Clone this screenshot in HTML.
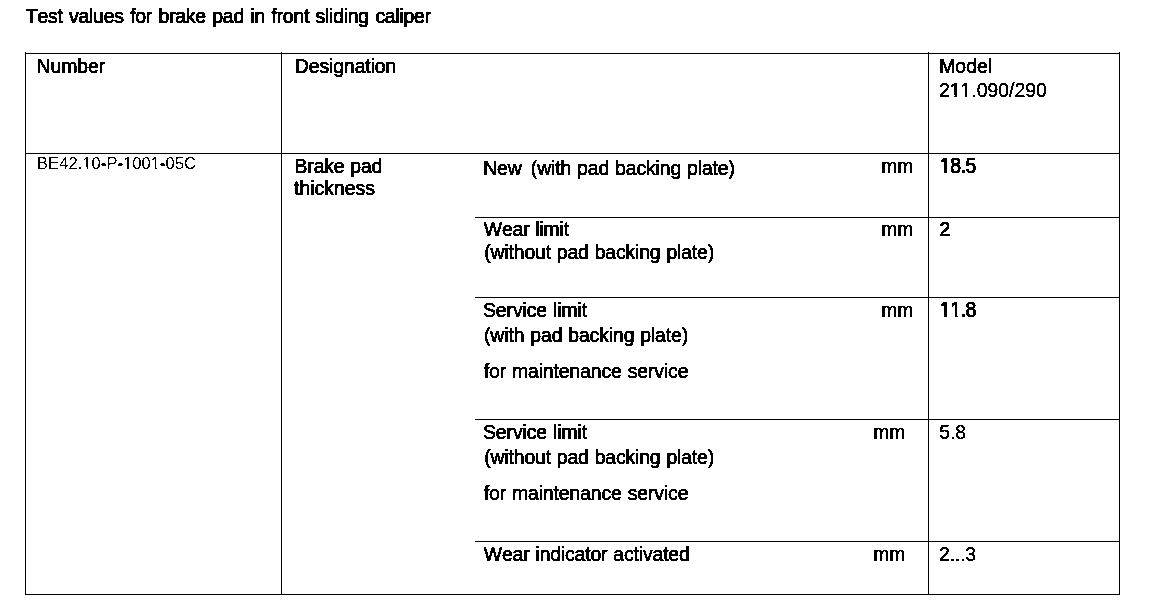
<!DOCTYPE html>
<html>
<head>
<meta charset="utf-8">
<title>Test values for brake pad in front sliding caliper</title>
<style>
html,body{margin:0;padding:0;background:#fff;}
body{width:1152px;height:614px;position:relative;overflow:hidden;font-family:"Liberation Sans",sans-serif;color:#000;}
.l{position:absolute;background:#000;}
#txt{position:absolute;left:0;top:0;}
.t{font-family:"Liberation Sans",sans-serif;font-size:19.4px;font-kerning:none;font-variant-ligatures:none;word-spacing:0.7px;
   fill:#000;stroke:#000;stroke-linejoin:round;stroke-linecap:round;white-space:pre;}
.s{font-size:16.6px;}
.b{stroke-width:0.9px;}
.r{stroke-width:0.65px;}
.lt{stroke-width:0.32px;}
.s{stroke-width:0.0px;}
.hy{stroke-width:0.7px;}
</style>
</head>
<body>
<!-- table rules -->
<div class="l" style="left:25px;top:52px;width:1px;height:543px"></div>
<div class="l" style="left:281px;top:52px;width:1px;height:543px"></div>
<div class="l" style="left:928px;top:52px;width:1px;height:543px"></div>
<div class="l" style="left:1119px;top:52px;width:1px;height:543px"></div>
<div class="l" style="left:25px;top:53px;width:1095px;height:1px"></div>
<div class="l" style="left:25px;top:153px;width:1095px;height:1px"></div>
<div class="l" style="left:475px;top:217px;width:645px;height:1px"></div>
<div class="l" style="left:475px;top:297px;width:645px;height:1px"></div>
<div class="l" style="left:475px;top:419px;width:645px;height:1px"></div>
<div class="l" style="left:475px;top:541px;width:645px;height:1px"></div>
<div class="l" style="left:25px;top:594px;width:1095px;height:1px"></div>
<!-- text -->
<svg id="txt" width="1152" height="614" viewBox="0 0 1152 614">
<defs>
<filter id="th" x="0" y="0" width="1152" height="614" filterUnits="userSpaceOnUse" color-interpolation-filters="sRGB"><feComponentTransfer><feFuncA type="discrete" tableValues="0 1"/></feComponentTransfer></filter>
</defs>
<g filter="url(#th)">
<defs>
<clipPath id="c_modelno" clipPathUnits="userSpaceOnUse"><path clip-rule="evenodd" d="M-20 -40H400V20H-20Z M11.68 -1.78H15.50V0.76H11.68Z M17.56 -1.78H21.18V0.76H17.56Z M22.47 -1.78H26.28V0.76H22.47Z M28.35 -1.78H31.97V0.76H28.35Z"/></clipPath>
<clipPath id="c_code" clipPathUnits="userSpaceOnUse"><path clip-rule="evenodd" d="M-20 -40H400V20H-20Z M46.21 -1.41H49.53V0.60H46.21Z M51.03 -1.41H54.18V0.60H51.03Z M86.95 -1.41H90.27V0.60H86.95Z M91.77 -1.41H94.92V0.60H91.77Z M114.73 -1.41H118.05V0.60H114.73Z M119.55 -1.41H122.70V0.60H119.55Z"/></clipPath>
<clipPath id="c_v1" clipPathUnits="userSpaceOnUse"><path clip-rule="evenodd" d="M-20 -40H400V20H-20Z M0.60 -2.07H4.42V1.05H0.60Z M7.07 -2.07H10.69V1.05H7.07Z"/></clipPath>
<clipPath id="c_v3" clipPathUnits="userSpaceOnUse"><path clip-rule="evenodd" d="M-20 -40H400V20H-20Z M0.60 -2.07H4.42V1.05H0.60Z M7.07 -2.07H10.69V1.05H7.07Z M10.94 -2.07H14.76V1.05H10.94Z M17.40 -2.07H21.02V1.05H17.40Z"/></clipPath>
</defs>
<text id="title" class="t b" transform="translate(25.80 22.70) scale(1 1.03)" style="letter-spacing:-0.235px;word-spacing:1.3px">Test values for brake pad in front sliding caliper</text>
<text id="number" class="t r" transform="translate(36.60 72.70) scale(1 1.03)" style="letter-spacing:-0.06px">Number</text>
<text id="desig" class="t r" transform="translate(294.80 72.70) scale(1 1.03)" style="letter-spacing:-0.09px">Designation</text>
<text id="model" class="t r" transform="translate(939.20 72.70) scale(1 1.03)" >Model</text>
<text id="modelno" class="t lt" transform="translate(939.00 96.70) scale(1 1.0)" clip-path="url(#c_modelno)" >211.090/290</text>
<text id="code" class="t s" transform="translate(37.00 168.70) scale(1 1.02)" clip-path="url(#c_code)" style="letter-spacing:0.03px">BE42.10<tspan class="hy">-</tspan>P<tspan class="hy">-</tspan>1001<tspan class="hy">-</tspan>05C</text>
<text id="brake" class="t r" transform="translate(294.60 172.70) scale(1 1.03)" style="letter-spacing:-0.18px">Brake pad</text>
<text id="thick" class="t r" transform="translate(294.00 194.70) scale(1 1.03)" >thickness</text>
<text id="new" class="t r" transform="translate(483.20 174.70) scale(1 1.03)" style="letter-spacing:-0.12px">New <tspan dx="3.2">(with</tspan> pad backing plate)</text>
<text id="mm1" class="t lt" transform="translate(881.20 172.70) scale(1 1.03)" >mm</text>
<text id="v1" class="t b" transform="translate(940.00 172.70) scale(1 1.09)" clip-path="url(#c_v1)" style="letter-spacing:-0.45px">18.5</text>
<text id="wear" class="t r" transform="translate(483.80 235.70) scale(1 1.03)" style="letter-spacing:-0.18px">Wear limit</text>
<text id="without1" class="t r" transform="translate(484.20 258.70) scale(1 1.03)" style="letter-spacing:-0.15px">(without pad backing plate)</text>
<text id="mm2" class="t lt" transform="translate(881.20 235.70) scale(1 1.03)" >mm</text>
<text id="v2" class="t b" transform="translate(939.40 235.70) scale(1 1.03)" >2</text>
<text id="svc1" class="t r" transform="translate(483.00 316.70) scale(1 1.03)" style="letter-spacing:-0.09px">Service limit</text>
<text id="with1" class="t r" transform="translate(484.00 341.70) scale(1 1.03)" style="letter-spacing:-0.12px">(with pad backing plate)</text>
<text id="maint1" class="t r" transform="translate(483.80 377.70) scale(1 1.03)" style="letter-spacing:-0.12px">for maintenance service</text>
<text id="mm3" class="t lt" transform="translate(881.20 316.70) scale(1 1.03)" >mm</text>
<text id="v3" class="t b" transform="translate(940.00 316.70) scale(1 1.09)" clip-path="url(#c_v3)" style="letter-spacing:-0.45px">11.8</text>
<text id="svc2" class="t r" transform="translate(483.00 438.70) scale(1 1.03)" style="letter-spacing:-0.09px">Service limit</text>
<text id="without2" class="t r" transform="translate(484.20 463.70) scale(1 1.03)" style="letter-spacing:-0.15px">(without pad backing plate)</text>
<text id="maint2" class="t r" transform="translate(483.80 499.70) scale(1 1.03)" style="letter-spacing:-0.12px">for maintenance service</text>
<text id="mm4" class="t lt" transform="translate(873.20 438.70) scale(1 1.03)" >mm</text>
<text id="v4" class="t lt" transform="translate(939.20 438.70) scale(1 1.03)" >5.8</text>
<text id="wind" class="t r" transform="translate(483.80 560.70) scale(1 1.03)" style="letter-spacing:-0.15px">Wear indicator activated</text>
<text id="mm5" class="t lt" transform="translate(873.20 560.70) scale(1 1.03)" >mm</text>
<text id="v5" class="t lt" transform="translate(939.00 560.70) scale(1 1.03)" style="letter-spacing:-0.15px">2...3</text>
</g>
</svg>
</body>
</html>
